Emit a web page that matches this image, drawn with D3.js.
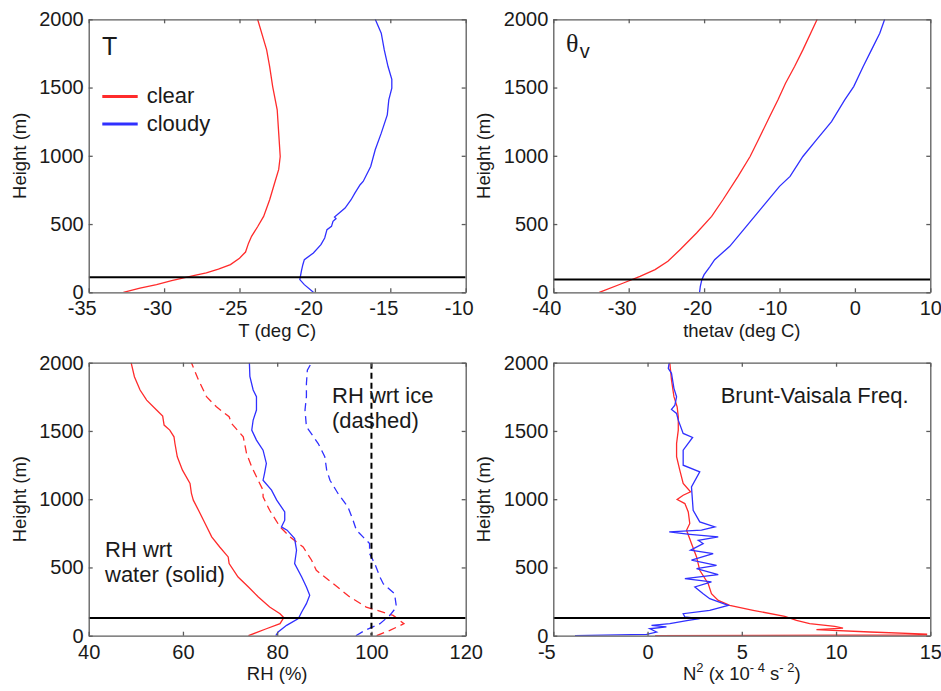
<!DOCTYPE html>
<html>
<head>
<meta charset="utf-8">
<script src="https://cdn.jsdelivr.net/npm/d3@7"></script>
<style>
    body { margin: 0; background: #fff; }
    svg { font-family: "Liberation Sans", Arial, sans-serif; }
</style>
</head>
<body>
<svg id="drawing_region"></svg>
<script>
// profiles: [value, height (m)]
const T_clear = [[-32.7,0],[-31.6,30],[-30.5,56],[-29.5,85],[-28.7,105],[-27.9,125],[-27.2,142],[-26.4,170],[-25.6,203],
    [-25.0,250],[-24.6,295],[-24.4,360],[-24.2,410],[-23.8,480],[-23.4,556],[-23.0,678],[-22.7,790],[-22.4,900],[-22.3,995],
    [-22.4,1166],[-22.5,1337],[-22.8,1507],[-23.0,1654],[-23.2,1776],[-23.8,2000]];
const T_cloudy = [[-20.1,0],[-20.7,56],[-21.0,93],[-20.9,154],[-20.8,202],[-20.7,239],[-20.1,288],[-19.6,349],[-19.35,398],
    [-19.2,459],[-18.9,483],[-18.8,520],[-18.6,540],[-18.7,552],[-18.0,617],[-17.6,678],[-17.35,727],[-17.0,788],[-16.8,812],
    [-16.3,922],[-16.0,1044],[-15.6,1166],[-15.2,1300],[-15.1,1410],[-14.9,1495],[-14.9,1560],[-15.15,1654],[-15.4,1776],[-15.6,1898],[-16.0,2000]];

const TH_clear = [[-33.9,0],[-30.7,68],[-28.5,117],[-26.5,166],[-24.8,227],[-23.2,312],[-21.0,434],[-19.0,556],[-17.5,678],
    [-15.5,849],[-13.9,995],[-12.8,1117],[-11.3,1288],[-10.2,1410],[-9.2,1532],[-8.0,1654],[-6.9,1776],[-5.0,2000]];
const TH_cloudy = [[-20.6,0],[-20.5,44],[-20.3,93],[-20.0,129],[-19.2,190],[-18.6,239],[-16.6,337],[-14.4,483],[-12.2,629],
    [-10.0,776],[-8.6,849],[-6.9,995],[-5.1,1117],[-3.1,1251],[-1.35,1410],[-0.16,1507],[1.1,1654],[2.2,1776],[3.3,1898],[3.95,2000]];

const RHw_clear = [[73.9,0],[77.7,51],[80.6,88],[81.4,132],[80.6,161],[78.4,210],[76.0,284],[73.9,357],[71.7,430],[69.8,528],
    [69.6,577],[67.8,650],[66.1,724],[64.7,822],[63.3,919],[62.2,993],[61.8,1042],[61.5,1115],[59.9,1213],[58.8,1311],[58.3,1408],
    [58.1,1457],[57.2,1506],[56.0,1543],[55.7,1609],[54.4,1653],[52.3,1726],[50.9,1800],[49.7,1897],[49.0,2000]];
const RHi_clear = [[101.1,0],[103.9,39],[106.9,88],[104.6,149],[98.9,210],[95.4,284],[91.9,381],[88.3,479],[87.3,553],[85.5,650],
    [82.7,724],[80.6,797],[78.4,919],[77.0,1017],[77.0,1066],[75.6,1164],[74.6,1237],[73.5,1335],[72.8,1457],[70.3,1555],
    [69.8,1604],[67.1,1677],[65.0,1751],[63.3,1873],[61.8,2000]];
const RHw_cloudy = [[79.7,0],[80.2,27],[82.0,76],[84.5,125],[85.2,174],[86.2,235],[86.9,296],[86.2,357],[85.2,430],[83.7,528],
    [84.1,626],[83.7,711],[82.1,773],[80.9,797],[81.6,846],[81.6,907],[79.9,993],[78.8,1066],[77.0,1139],[77.3,1188],[77.7,1262],
    [77.0,1359],[75.6,1433],[74.6,1506],[74.9,1580],[75.6,1653],[75.6,1751],[74.9,1800],[74.2,1900],[74.1,2000]];
const RHi_cloudy = [[96.7,0],[98.6,39],[101.8,88],[103.9,149],[105.3,210],[104.9,308],[102.5,381],[101.8,430],[100.7,528],
    [99.6,601],[99.6,675],[98.2,724],[96.8,773],[96.1,846],[95.0,944],[92.9,1042],[91.2,1139],[90.5,1213],[90.1,1311],[88.7,1408],
    [86.2,1531],[85.9,1653],[86.2,1751],[86.2,1848],[86.4,1946],[87.3,2000]];

const N2_clear = [[0.4,1],[14.8,5],[14.8,12],[11.8,27],[8.96,44],[10.37,56],[9.93,68],[8.6,88],[7.9,112],[7.28,142],[5.6,186],
    [4.36,222],[3.75,259],[3.39,308],[3.22,381],[2.77,479],[2.6,577],[2.33,675],[2.07,773],[2.24,822],[2.16,907],[1.98,968],
    [1.57,998],[1.89,1029],[2.28,1054],[1.89,1115],[1.71,1213],[1.54,1311],[1.54,1408],[1.63,1506],[1.63,1604],[1.57,1677],
    [1.4,1751],[1.27,1873],[1.18,2000]];
const N2_cloudy = [[-3.85,1],[-0.05,10],[0.48,27],[0.12,51],[1.0,64],[0.21,76],[1.18,88],[2.16,112],[2.77,125],[1.98,137],
    [1.89,161],[3.3,186],[4.28,222],[3.3,271],[2.95,308],[2.51,357],[3.39,394],[1.98,418],[3.75,447],[2.6,491],[3.66,516],
    [2.33,553],[3.48,601],[2.28,626],[2.95,675],[2.69,699],[3.75,724],[2.24,743],[1.15,760],[2.86,773],[3.57,797],[2.77,834],
    [2.42,919],[2.33,1090],[2.77,1200],[1.89,1249],[1.89,1359],[2.39,1452],[1.89,1482],[1.63,1579],[1.54,1628],[1.27,1658],
    [1.45,1689],[1.54,1751],[1.4,1812],[1.27,1922],[1.1,1958],[1.15,2000]];

// boundary layer top (m) marked in each panel
const bl_height = [110, 93, 130, 130];

const height_ticks = [0, 500, 1000, 1500, 2000];
const T_ticks = [-35, -30, -25, -20, -15, -10];
const TH_ticks = [-40, -30, -20, -10, 0, 10];
const RH_ticks = [40, 60, 80, 100, 120];
const N2_ticks = [-5, 0, 5, 10, 15];

const RED = '#ff2b2b', BLUE = '#3030ff';

const svg = d3.select('#drawing_region')
    .attr('width', 941)
    .attr('height', 691);

class ProfilePanel {

    constructor( config, series ) {
        this.config = {
            parent: config.parent,
            id: config.id,
            left: config.left,
            top: config.top,
            width: config.width || 377,
            height: config.height || 273,
            xdomain: config.xdomain,
            xticks: config.xticks,
            xlabel: config.xlabel,
            hline: config.hline
        };
        this.series = series;
        this.init();
    }

    init() {
        let self = this;

        self.chart = self.config.parent.append('g')
            .attr('transform', `translate(${self.config.left}, ${self.config.top})`);

        self.xscale = d3.scaleLinear()
            .domain(self.config.xdomain)
            .range([0, self.config.width]);

        self.yscale = d3.scaleLinear()
            .domain([0, 2000])
            .range([self.config.height, 0]);

        self.chart.append('clipPath')
            .attr('id', 'clip' + self.config.id)
            .append('rect')
            .attr('width', self.config.width)
            .attr('height', self.config.height);

        self.plot = self.chart.append('g')
            .attr('clip-path', `url(#clip${self.config.id})`);
    }

    render() {
        let self = this;
        let w = self.config.width, h = self.config.height;

        const line = d3.line()
            .x(d => self.xscale(d[0]))
            .y(d => self.yscale(d[1]));

        self.plot.selectAll('path.profile').data(self.series).join('path')
            .attr('class', 'profile')
            .attr('d', s => line(s.values))
            .attr('fill', 'none')
            .attr('stroke', s => s.color)
            .attr('stroke-width', 1.3)
            .attr('stroke-dasharray', s => s.dashed ? '8,5' : null);

        self.plot.append('line')
            .attr('x1', 0).attr('x2', w)
            .attr('y1', self.yscale(self.config.hline))
            .attr('y2', self.yscale(self.config.hline))
            .attr('stroke', '#000')
            .attr('stroke-width', 2);

        const fmt = d => String(d);
        const axes = [
            { axis: d3.axisBottom(self.xscale).tickValues(self.config.xticks).tickFormat(fmt).tickPadding(9), t: `translate(0, ${h})`, bottom: true },
            { axis: d3.axisTop(self.xscale).tickValues(self.config.xticks).tickFormat(''), t: 'translate(0, 0)' },
            { axis: d3.axisLeft(self.yscale).tickValues(height_ticks).tickFormat(fmt).tickPadding(5), t: 'translate(0, 0)' },
            { axis: d3.axisRight(self.yscale).tickValues(height_ticks).tickFormat(''), t: `translate(${w}, 0)` }
        ];
        axes.forEach(a => {
            let g = self.chart.append('g')
                .attr('transform', a.t)
                .call(a.axis.tickSizeInner(-4).tickSizeOuter(0));
            g.selectAll('.domain, .tick line')
                .attr('stroke', '#5c5c5c')
                .attr('stroke-width', 1.3);
            g.selectAll('text')
                .attr('font-family', '"Liberation Sans", Arial, sans-serif')
                .attr('font-size', 20)
                .attr('fill', '#1a1a1a');
            // negative labels sit a little left of their tick
            if (a.bottom) g.selectAll('text').attr('dx', d => d < 0 ? -7 : 0);
        });

        self.chart.append('text')
            .attr('transform', 'rotate(-90)')
            .attr('x', -h / 2)
            .attr('y', -63)
            .attr('text-anchor', 'middle')
            .attr('font-size', 18.5)
            .attr('fill', '#1a1a1a')
            .text('Height (m)');

        let xl = self.chart.append('text')
            .attr('x', w / 2)
            .attr('y', h + 44.5)
            .attr('text-anchor', 'middle')
            .attr('font-size', 18.5)
            .attr('fill', '#1a1a1a');
        self.config.xlabel.forEach(p => {
            xl.append('tspan')
                .attr('font-size', p.sup ? 13 : null)
                .attr('dy', p.sup ? -8 : (p.down ? 8 : null))
                .text(p.t);
        });
    }

    note( x, y, str, size ) {
        let self = this;
        self.chart.append('text')
            .attr('x', x).attr('y', y)
            .attr('font-size', size || 22)
            .attr('fill', '#1a1a1a')
            .text(str);
    }
}

// T
let p1 = new ProfilePanel({ parent: svg, id: 1, left: 88.7, top: 19.3, xdomain: [-35, -10], xticks: T_ticks,
    xlabel: [{ t: 'T (deg C)' }], hline: bl_height[0] },
    [{ values: T_clear, color: RED }, { values: T_cloudy, color: BLUE }]);
p1.render();
p1.note(13.3, 35.7, 'T', 25);
[{ name: 'clear', color: RED }, { name: 'cloudy', color: BLUE }].forEach((d, i) => {
    p1.chart.append('line')
        .attr('x1', 13.6).attr('x2', 49)
        .attr('y1', 77.2 + i * 27.5).attr('y2', 77.2 + i * 27.5)
        .attr('stroke', d.color)
        .attr('stroke-width', 3);
    p1.note(58, 83.4 + i * 28, d.name, 22);
});

// theta_v
let p2 = new ProfilePanel({ parent: svg, id: 2, left: 553.3, top: 19.3, xdomain: [-40, 10], xticks: TH_ticks,
    xlabel: [{ t: 'thetav (deg C)' }], hline: bl_height[1] },
    [{ values: TH_clear, color: RED }, { values: TH_cloudy, color: BLUE }]);
p2.render();
p2.chart.append('text')
    .attr('x', 12.8).attr('y', 32.4)
    .attr('font-family', '"Liberation Serif", "Times New Roman", serif')
    .attr('font-size', 26)
    .attr('fill', '#1a1a1a')
    .text('\u03b8');
p2.note(26.5, 39, 'v', 20);

// RH
let p3 = new ProfilePanel({ parent: svg, id: 3, left: 88.7, top: 362.7, xdomain: [40, 120], xticks: RH_ticks,
    xlabel: [{ t: 'RH (%)' }], hline: bl_height[2] },
    [{ values: RHw_clear, color: RED }, { values: RHi_clear, color: RED, dashed: true },
     { values: RHw_cloudy, color: BLUE }, { values: RHi_cloudy, color: BLUE, dashed: true }]);
p3.render();
p3.plot.append('line')
    .attr('x1', p3.xscale(100)).attr('x2', p3.xscale(100))
    .attr('y1', 0).attr('y2', p3.config.height)
    .attr('stroke', '#000')
    .attr('stroke-width', 2)
    .attr('stroke-dasharray', '6,4');
p3.note(243.3, 40.3, 'RH wrt ice');
p3.note(243.3, 65.3, '(dashed)');
p3.note(16.3, 194.3, 'RH wrt');
p3.note(16.3, 219.3, 'water (solid)');

// Brunt-Vaisala
let p4 = new ProfilePanel({ parent: svg, id: 4, left: 553.3, top: 362.7, xdomain: [-5, 15], xticks: N2_ticks,
    xlabel: [{ t: 'N' }, { t: '2', sup: true }, { t: ' (x 10', down: true }, { t: '- 4', sup: true },
             { t: ' s', down: true }, { t: '- 2', sup: true }, { t: ')', down: true }], hline: bl_height[3] },
    [{ values: N2_clear, color: RED }, { values: N2_cloudy, color: BLUE }]);
p4.render();
p4.note(167.4, 40.3, 'Brunt-Vaisala Freq.');
</script>
</body>
</html>
